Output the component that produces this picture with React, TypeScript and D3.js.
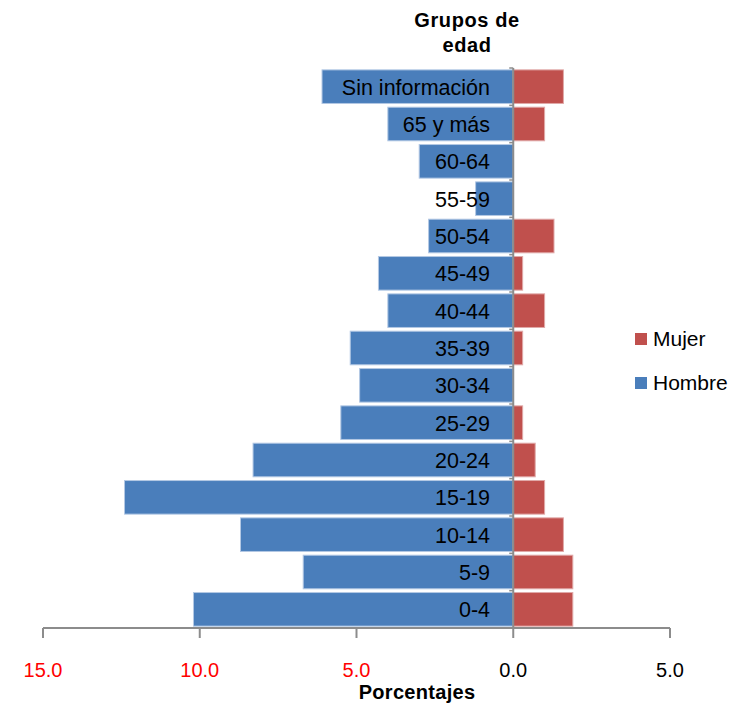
import * as d3 from "d3";

const categories = [
  "Sin información", "65 y más", "60-64", "55-59", "50-54", "45-49", "40-44",
  "35-39", "30-34", "25-29", "20-24", "15-19", "10-14", "5-9", "0-4",
];
const hombre = [6.1, 4.0, 3.0, 1.2, 2.7, 4.3, 4.0, 5.2, 4.9, 5.5, 8.3, 12.4, 8.7, 6.7, 10.2];
const mujer = [1.6, 1.0, 0, 0, 1.3, 0.3, 1.0, 0.3, 0, 0.3, 0.7, 1.0, 1.6, 1.9, 1.9];
const xTicks = [-15, -10, -5, 0, 5];
const legendItems = [
  { name: "Mujer", color: "#c0504d" },
  { name: "Hombre", color: "#4a7ebb" },
];

const W = 738, H = 707;
const font = "'Liberation Sans', Arial, sans-serif";

export default function App() {
  const x = d3.scaleLinear([-15, 5], [43, 670]);
  const y = d3.scaleBand(categories, [68, 628]).paddingInner(0.1).paddingOuter(0.05);
  const y0 = 68;
  const axisY = 628;
  const bounds = d3.range(categories.length + 1).map(i => y0 + i * (560 / categories.length));

  return (
    <svg width={W} height={H} style={{ position: "absolute", left: 0, top: 0, background: "#fff" }} fontFamily={font}>
      {/* title */}
      <text x={467} y={27} textAnchor="middle" fontSize={20} fontWeight="bold" letterSpacing={0.6}>Grupos de</text>
      <text x={467} y={52} textAnchor="middle" fontSize={20} fontWeight="bold" letterSpacing={0.6}>edad</text>

      {/* bars */}
      {categories.map((c, i) => (
        <g key={c}>
          <rect x={x(-hombre[i])} y={y(c)} width={x(0) - x(-hombre[i])} height={y.bandwidth()}
            fill="#4a7ebb" stroke="#b3c8e4" strokeWidth={1} />
          {mujer[i] > 0 && (
            <rect x={x(0)} y={y(c)} width={x(mujer[i]) - x(0)} height={y.bandwidth()}
              fill="#c0504d" stroke="#e0a9a8" strokeWidth={1} />
          )}
        </g>
      ))}

      {/* vertical axis */}
      <line x1={x(0)} x2={x(0)} y1={y0} y2={axisY} stroke="#8c8c8c" strokeWidth={2} />
      {bounds.map((b, i) => (
        <line key={i} x1={x(0) - 4} x2={x(0)} y1={b} y2={b} stroke="#8c8c8c" strokeWidth={1.5} />
      ))}
      {categories.map(c => (
        <text key={c} x={490} y={y(c) + y.bandwidth() / 2 + 8} textAnchor="end" fontSize={21.5} fill="#000">{c}</text>
      ))}

      {/* horizontal axis */}
      <line x1={x(-15)} x2={x(5)} y1={axisY} y2={axisY} stroke="#8c8c8c" strokeWidth={2} />
      {xTicks.map(t => (
        <g key={t}>
          <line x1={x(t)} x2={x(t)} y1={axisY} y2={axisY + 10} stroke="#8c8c8c" strokeWidth={2} />
          <text x={x(t)} y={677} textAnchor="middle" fontSize={20} fill={t < 0 ? "#ff0000" : "#000"}>
            {Math.abs(t).toFixed(1)}
          </text>
        </g>
      ))}
      <text x={417} y={699} textAnchor="middle" fontSize={20} fontWeight="bold" letterSpacing={0.3}>Porcentajes</text>

      {/* legend */}
      {legendItems.map((d, i) => (
        <g key={d.name} transform={`translate(635,${333 + i * 44})`}>
          <rect width={12} height={12} fill={d.color} />
          <text x={18} y={13} fontSize={21}>{d.name}</text>
        </g>
      ))}
    </svg>
  );
}
